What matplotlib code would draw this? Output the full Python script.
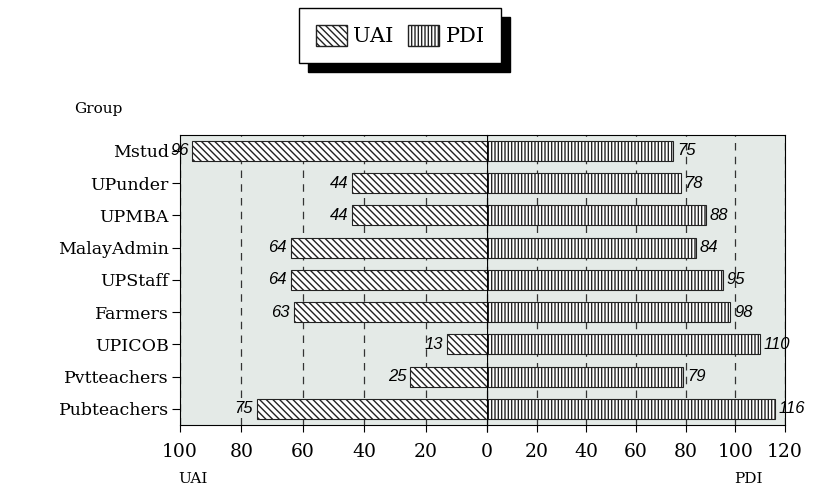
import numpy as np
import matplotlib.pyplot as plt
from matplotlib.patches import Patch, Rectangle

groups = ['Mstud', 'UPunder', 'UPMBA', 'MalayAdmin', 'UPStaff',
          'Farmers', 'UPICOB', 'Pvtteachers', 'Pubteachers']
uai = [96, 44, 44, 64, 64, 63, 13, 25, 75]
pdi = [75, 78, 88, 84, 95, 98, 110, 79, 116]
uai_ticks = [100, 80, 60, 40, 20, 0]
pdi_ticks = [0, 20, 40, 60, 80, 100, 120]

serif = 'DejaVu Serif'
bg = '#e4eae7'

fig = plt.figure(figsize=(8.27, 4.92), dpi=100)
axl = fig.add_axes([0.2177, 0.136, 0.3712, 0.59])
axr = fig.add_axes([0.5889, 0.136, 0.3603, 0.59], sharey=axl)

y = np.arange(len(groups))
h = 0.62

for ax in (axl, axr):
    ax.set_facecolor(bg)
    ax.set_axisbelow(True)
    ax.xaxis.grid(True, linestyle=(0, (6, 5)), color='#333333', linewidth=0.9)
    ax.tick_params(axis='x', length=5, direction='out', pad=8)

axl.barh(y, uai, height=h, color='white', edgecolor='#222222',
         hatch='\\\\\\\\\\', linewidth=0.8)
axr.barh(y, pdi, height=h, color='white', edgecolor='#222222',
         hatch='|||||', linewidth=0.8)

axl.set_xlim(100, 0)
axr.set_xlim(0, 120)
axl.set_ylim(len(groups) - 0.5, -0.5)
axl.set_xticks(uai_ticks)
axr.set_xticks(pdi_ticks)
# the centre 0 is printed once, by the right axis
axl.set_xticklabels([str(t) for t in uai_ticks[:-1]] + [''], family=serif, fontsize=13.5)
axr.set_xticklabels([str(t) for t in pdi_ticks], family=serif, fontsize=13.5)

axl.set_yticks(y)
axl.set_yticklabels(groups, family=serif, fontsize=12.5)
axl.tick_params(axis='y', length=6, pad=2)
axr.tick_params(axis='y', left=False, labelleft=False)

axl.spines['right'].set_visible(False)
axr.spines['left'].set_visible(False)
axr.axvline(0, color='black', linewidth=1.6, zorder=3)

for i, v in enumerate(uai):
    axl.text(v + 1.2, i, str(v), ha='right', va='center', style='italic',
             family='Liberation Sans', fontsize=12)
for i, v in enumerate(pdi):
    axr.text(v + 1.5, i, str(v), ha='left', va='center', style='italic',
             family='Liberation Sans', fontsize=12)

fig.text(0.09, 0.77, 'Group', family=serif, fontsize=11)
fig.text(0.215, 0.018, 'UAI', family=serif, fontsize=11)
fig.text(0.888, 0.018, 'PDI', family=serif, fontsize=11)

handles = [Patch(facecolor='white', edgecolor='#222222', hatch='\\\\\\\\\\', label='UAI'),
           Patch(facecolor='white', edgecolor='#222222', hatch='|||||', label='PDI')]
leg = fig.legend(handles=handles, loc='center', bbox_to_anchor=(0.484, 0.928),
                 ncol=2, frameon=True, fancybox=False, edgecolor='black',
                 facecolor='white', framealpha=1,
                 prop={'family': serif, 'size': 15}, handlelength=1.5,
                 handleheight=1.2, columnspacing=0.7, handletextpad=0.3,
                 borderpad=0.8, borderaxespad=0)
leg.get_frame().set_linewidth(1.0)

fig.canvas.draw()
bb = leg.get_window_extent().transformed(fig.transFigure.inverted())
dx, dy = 9 / 827, 9 / 492
fig.patches.append(Rectangle((bb.x0 + dx, bb.y0 - dy), bb.width, bb.height,
                             transform=fig.transFigure, facecolor='black',
                             edgecolor='black', zorder=0))

fig.savefig('out.png', dpi=100)
